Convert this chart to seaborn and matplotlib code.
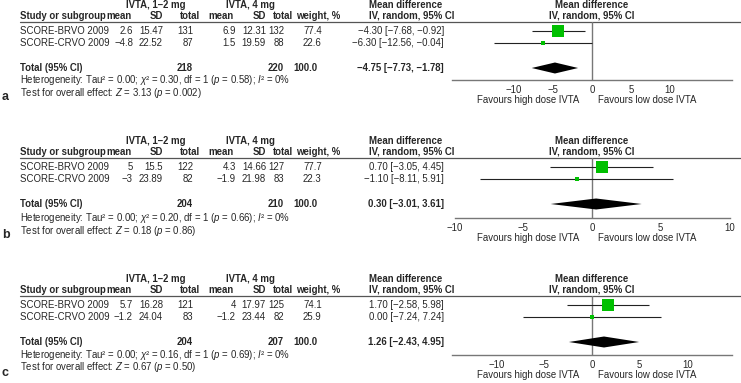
import numpy as np
import pandas as pd
import seaborn as sns
import matplotlib.pyplot as plt

# ---- data ----
studies = ["SCORE-BRVO 2009", "SCORE-CRVO 2009"]

# a
mean_lo_a = [2.6, -4.8]
sd_lo_a = [15.47, 22.52]
n_lo_a = [131, 87]
mean_hi_a = [6.9, 1.5]
sd_hi_a = [12.31, 19.59]
n_hi_a = [132, 88]
weight_a = [77.4, 22.6]
md_a = [-4.30, -6.30]
ci_low_a = [-7.68, -12.56]
ci_high_a = [-0.92, -0.04]
total_a = [-4.75, -7.73, -1.78]      # estimate, lower, upper
total_n_a = [218, 220]
het_a = ["0.00", "0.30", "1", "0.58", "0"]   # tau2, chi2, df, p, I2
test_a = ["3.13", "0.002"]                    # Z, p
xlim_a = 17.95

# b
mean_lo_b = [5, -3]
sd_lo_b = [15.5, 23.89]
n_lo_b = [122, 82]
mean_hi_b = [4.3, -1.9]
sd_hi_b = [14.66, 21.98]
n_hi_b = [127, 83]
weight_b = [77.7, 22.3]
md_b = [0.70, -1.10]
ci_low_b = [-3.05, -8.11]
ci_high_b = [4.45, 5.91]
total_b = [0.30, -3.01, 3.61]
total_n_b = [204, 210]
het_b = ["0.00", "0.20", "1", "0.66", "0"]
test_b = ["0.18", "0.86"]
xlim_b = 10.0

# c
mean_lo_c = [5.7, -1.2]
sd_lo_c = [16.28, 24.04]
n_lo_c = [121, 83]
mean_hi_c = [4, -1.2]
sd_hi_c = [17.97, 23.44]
n_hi_c = [125, 82]
weight_c = [74.1, 25.9]
md_c = [1.70, 0.00]
ci_low_c = [-2.58, -7.24]
ci_high_c = [5.98, 7.24]
total_c = [1.26, -2.43, 4.95]
total_n_c = [204, 207]
het_c = ["0.00", "0.16", "1", "0.69", "0"]
test_c = ["0.67", "0.50"]
xlim_c = 14.7

panel_labels = ["a", "b", "c"]
ticks = [-10, -5, 0, 5, 10]

sns.set_style("white")
plt.rcParams['font.family'] = ['Liberation Sans', 'DejaVu Sans']
plt.rcParams['mathtext.fontset'] = 'custom'
plt.rcParams['mathtext.rm'] = 'Liberation Sans'
plt.rcParams['mathtext.it'] = 'Liberation Sans:italic'
plt.rcParams['mathtext.bf'] = 'Liberation Sans:bold'

W, H = 741, 383
fs = 6.9
green = "#00c000"
grey = "#777777"


def num(v, fmt="g"):
    return format(v, fmt).replace("-", "\u2212")


def ci_text(m, lo, hi):
    return f"{num(m, '.2f')} [{num(lo, '.2f')}, {num(hi, '.2f')}]"


fig = plt.figure(figsize=(W / 100, H / 100), dpi=100)
bg = fig.add_axes([0, 0, 1, 1])
bg.set_xlim(0, W)
bg.set_ylim(H, 0)
bg.axis("off")

panels = [
    (mean_lo_a, sd_lo_a, n_lo_a, mean_hi_a, sd_hi_a, n_hi_a, weight_a, md_a, ci_low_a, ci_high_a,
     total_a, total_n_a, het_a, test_a, xlim_a),
    (mean_lo_b, sd_lo_b, n_lo_b, mean_hi_b, sd_hi_b, n_hi_b, weight_b, md_b, ci_low_b, ci_high_b,
     total_b, total_n_b, het_b, test_b, xlim_b),
    (mean_lo_c, sd_lo_c, n_lo_c, mean_hi_c, sd_hi_c, n_hi_c, weight_c, md_c, ci_low_c, ci_high_c,
     total_c, total_n_c, het_c, test_c, xlim_c),
]
offsets = [0, 136, 274]
het_rel = [80, 82, 81]

for k, (m1, s1, n1, m2, s2, n2, w, md, lo, hi, tot, tn, het, test, xl) in enumerate(panels):
    o = offsets[k]
    y_h1, y_h2, y_line = o + 5, o + 16, o + 22
    rows = [o + 31, o + 43]
    y_tot = o + 68
    y_het = o + het_rel[k]
    y_test = y_het + 12.5

    def t(x, y, s, ha="left", bold=False, **kw):
        bg.text(x, y, s, ha=ha, va="center", fontsize=fs,
                fontweight="bold" if bold else "normal", **kw)

    # headers
    t(156, y_h1, "IVTA, 1\u20132 mg", ha="center", bold=True)
    t(250, y_h1, "IVTA, 4 mg", ha="center", bold=True)
    t(369, y_h1, "Mean difference", bold=True)
    t(592, y_h1, "Mean difference", ha="center", bold=True)
    t(20, y_h2, "Study or subgroup", bold=True)
    for x, s in [(132, "mean"), (163, "SD"), (200, "total"), (234, "mean"), (266, "SD"), (293, "total")]:
        t(x, y_h2, s, ha="right", bold=True)
    t(296, y_h2, "weight, %", bold=True)
    t(369, y_h2, "IV, random, 95% CI", bold=True)
    t(592, y_h2, "IV, random, 95% CI", ha="center", bold=True)
    bg.plot([20, W], [y_line, y_line], color="#555555", lw=0.9)

    # study rows
    for i, y in enumerate(rows):
        t(20, y, studies[i])
        t(133, y, num(m1[i]), ha="right")
        t(163, y, num(s1[i]), ha="right")
        t(193, y, num(n1[i]), ha="right")
        t(236, y, num(m2[i]), ha="right")
        t(266, y, num(s2[i]), ha="right")
        t(284, y, num(n2[i]), ha="right")
        t(303, y, num(w[i], ".1f"))
        t(444, y, ci_text(md[i], lo[i], hi[i]), ha="right")

    # total row
    t(20, y_tot, "Total (95% CI)", bold=True)
    t(193, y_tot, str(tn[0]), ha="right", bold=True)
    t(284, y_tot, str(tn[1]), ha="right", bold=True)
    t(293, y_tot, "100.0", bold=True)
    t(444, y_tot, ci_text(*tot), ha="right", bold=True)
    t(20, y_het, "Heterogeneity: Tau\u00b2 = %s; $\\chi$\u00b2 = %s, df = %s ($p$ = %s); $I$\u00b2 = %s%%" % tuple(het))
    t(20, y_test, "Test for overall effect: $Z$ = %s ($p$ = %s)" % tuple(test))
    bg.text(2, y_test + 5, panel_labels[k], ha="left", va="center", fontsize=9, fontweight="bold")

    # forest axes (y in pixel units)
    x0, x1 = 592 - 140, 592 + 140
    if xl == 10.0:
        x0, x1 = 592 - 137.5, 592 + 137.5
    ax = fig.add_axes([x0 / W, 1 - y_het / H, (x1 - x0) / W, (y_het - y_line) / H])
    ax.set_facecolor("none")
    ax.set_xlim(-xl, xl)
    ax.set_ylim(y_het, y_line)
    for sp in ["top", "left", "right"]:
        ax.spines[sp].set_visible(False)
    ax.spines["bottom"].set_color(grey)
    ax.spines["bottom"].set_linewidth(1.0)
    ax.axvline(0, color=grey, lw=1.0, zorder=1)
    ax.hlines(rows, lo, hi, color="#222222", lw=0.8, zorder=2)
    df = pd.DataFrame({"md": md, "y": rows, "w": w})
    sizes = {wi: ((1.4 + 0.137 * wi) * 0.72) ** 2 for wi in w}
    sns.scatterplot(data=df, x="md", y="y", size="w", sizes=sizes, marker="s",
                    color=green, linewidth=0, legend=False, ax=ax, zorder=3)
    est, tlo, thi = tot
    ax.fill([tlo, est, thi, est], [y_tot, y_tot - 5.5, y_tot, y_tot + 5.5], color="black", lw=0, zorder=3)
    ax.set_xticks(ticks)
    ax.set_yticks([])
    ax.tick_params(axis="x", direction="inout", length=5, width=0.8, color=grey,
                   labelsize=fs, pad=1)
    ax.set_xlabel("")
    ax.set_ylabel("")
    t(579, y_het + 20, "Favours high dose IVTA", ha="right")
    t(598, y_het + 20, "Favours low dose IVTA")

fig.savefig("out.png", dpi=100)
